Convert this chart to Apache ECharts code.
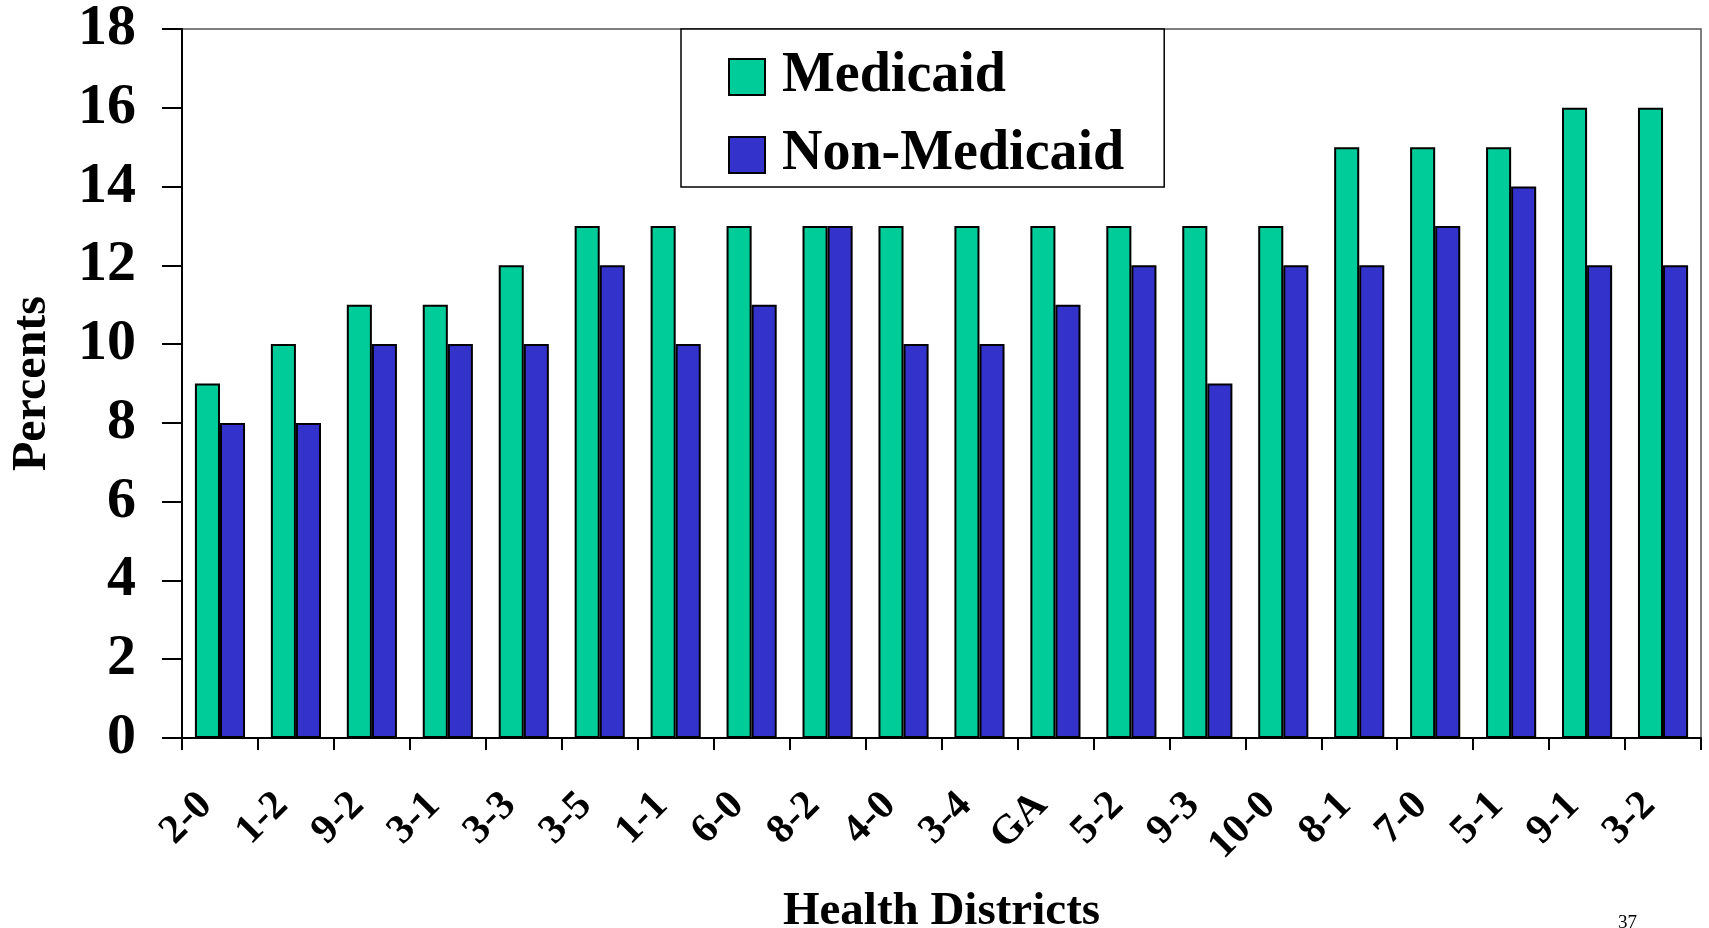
<!DOCTYPE html>
<html>
<head>
<meta charset="utf-8">
<script src="https://cdn.jsdelivr.net/npm/echarts@6/dist/echarts.min.js"></script>
<style>
    html, body { margin: 0; padding: 0; background: #fff; }
    #main { width: 1709px; height: 928px; }
</style>
</head>
<body>
<div id="main"></div>
<script>
const districts = ['2-0','1-2','9-2','3-1','3-3','3-5','1-1','6-0','8-2','4-0','3-4','GA','5-2','9-3','10-0','8-1','7-0','5-1','9-1','3-2'];
const medicaid = [9, 10, 11, 11, 12, 13, 13, 13, 13, 13, 13, 13, 13, 13, 13, 15, 15, 15, 16, 16];
const nonMedicaid = [8, 8, 10, 10, 10, 12, 10, 11, 13, 10, 10, 11, 12, 9, 12, 12, 13, 14, 12, 12];
const yTicks = [0, 2, 4, 6, 8, 10, 12, 14, 16, 18];

const serif = "'Liberation Serif', 'Times New Roman', serif";

let myChart = echarts.init(document.getElementById('main'));
myChart.setOption({
    animation: false,
    textStyle: { fontFamily: serif },
    title: {
        text: '37',
        left: 1618,
        top: 914,
        padding: 0,
        textStyle: { fontFamily: serif, fontWeight: 'normal', fontSize: 19, color: '#000' }
    },
    grid: {
        left: 182,
        top: 29,
        right: 8,
        bottom: 190,
        outerBoundsMode: 'none',
        containLabel: false,
        show: true,
        borderColor: '#555',
        borderWidth: 1.5,
        backgroundColor: 'transparent'
    },
    legend: {
        orient: 'vertical',
        left: 681,
        top: 29,
        data: ['Medicaid', 'Non-Medicaid'],
        icon: 'rect',
        itemWidth: 36,
        itemHeight: 36,
        itemGap: 22,
        padding: [20, 40, 4, 47],
        backgroundColor: '#fff',
        borderColor: '#000',
        borderWidth: 1.5,
        borderRadius: 0,
        textStyle: { fontFamily: serif, fontWeight: 'bold', fontSize: 56, color: '#000', padding: [4, 0, 4, 12] },
        itemStyle: { borderColor: '#000', borderWidth: 2 }
    },
    xAxis: {
        type: 'category',
        data: districts,
        name: 'Health Districts',
        nameLocation: 'middle',
        nameGap: 150,
        nameTextStyle: { fontFamily: serif, fontWeight: 'bold', fontSize: 47, color: '#000' },
        axisLine: { lineStyle: { color: '#000', width: 2 } },
        axisTick: { show: true, length: 12, lineStyle: { color: '#000', width: 2 } },
        axisLabel: {
            rotate: 45,
            margin: 47,
            interval: 0,
            padding: [0, 20, 0, 0],
            fontFamily: serif,
            fontWeight: 'bold',
            fontSize: 41,
            color: '#000'
        }
    },
    yAxis: {
        type: 'value',
        min: 0,
        max: 18,
        interval: 2,
        name: 'Percents',
        nameLocation: 'middle',
        nameGap: 125,
        nameRotate: 90,
        nameTextStyle: { fontFamily: serif, fontWeight: 'bold', fontSize: 48, color: '#000' },
        splitLine: { show: false },
        axisLine: { show: true, lineStyle: { color: '#000', width: 2 } },
        axisTick: { show: true, length: 20, lineStyle: { color: '#000', width: 2 } },
        axisLabel: {
            margin: 46,
            fontFamily: serif,
            fontWeight: 'bold',
            fontSize: 58,
            color: '#000',
            formatter: function (v) { return yTicks.indexOf(v) >= 0 ? String(v) : ''; }
        }
    },
    series: [
        {
            name: 'Medicaid',
            type: 'bar',
            data: medicaid,
            barWidth: '33%',
            barGap: '0%',
            itemStyle: { color: '#00CC99', borderColor: '#000', borderWidth: 2 }
        },
        {
            name: 'Non-Medicaid',
            type: 'bar',
            data: nonMedicaid,
            barWidth: '33%',
            barGap: '0%',
            itemStyle: { color: '#3333CC', borderColor: '#000', borderWidth: 2 }
        }
    ]
});
</script>
</body>
</html>
